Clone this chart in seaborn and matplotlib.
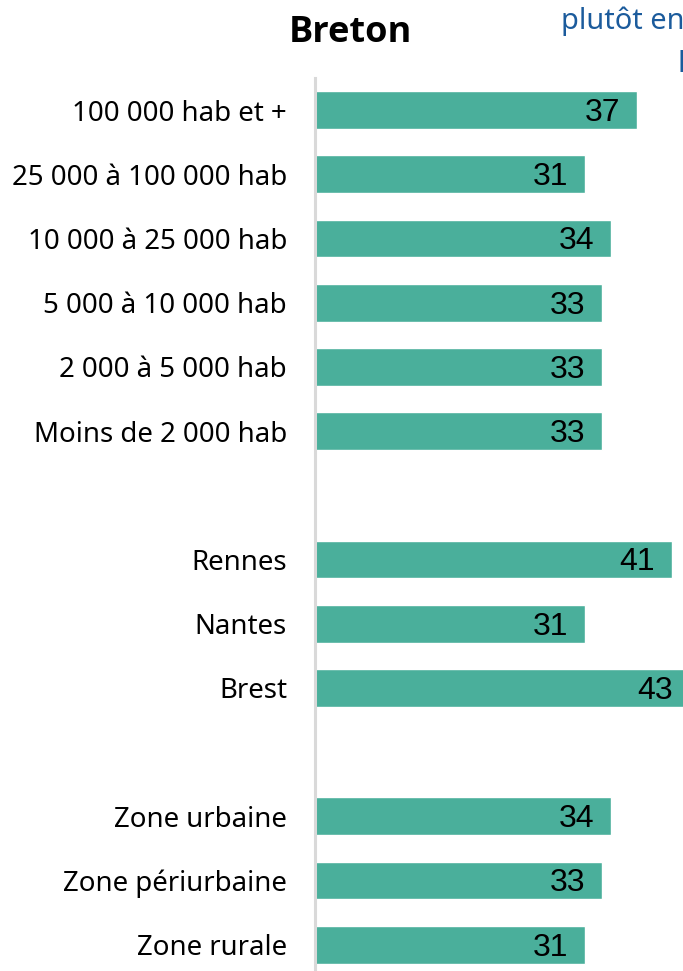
import matplotlib
matplotlib.use("Agg")
import matplotlib.pyplot as plt
import seaborn as sns
import pandas as pd

# Data: share (%) per town size / city / zone type
categories = [
    "100 000 hab et +",
    "25 000 à 100 000 hab",
    "10 000 à 25 000 hab",
    "5 000 à 10 000 hab",
    "2 000 à 5 000 hab",
    "Moins de 2 000 hab",
    "Rennes",
    "Nantes",
    "Brest",
    "Zone urbaine",
    "Zone périurbaine",
    "Zone rurale",
]
values = [37, 31, 34, 33, 33, 33, 41, 31, 43, 34, 33, 31]

# Blank rows separate the three groups
row_order = categories[:6] + [" "] + categories[6:9] + ["  "] + categories[9:]

title = "Breton"
header_lines = ["plutôt en", "l"]

BAR_COLOR = "#4AAF9B"
AXIS_COLOR = "#D9D9D9"
HEADER_COLOR = "#1B5B9C"

sns.set_theme(style="white")
plt.rcParams["font.family"] = ["Noto Sans", "DejaVu Sans"]

W, H, DPI = 683, 971, 100
fig = plt.figure(figsize=(W / DPI, H / DPI), dpi=DPI)

left_px, top_px = 314.5, 78
ax = fig.add_axes([left_px / W, 0, 1 - left_px / W, 1 - top_px / H])

df = pd.DataFrame({"categorie": categories, "valeur": values})
sns.barplot(
    data=df, y="categorie", x="valeur", order=row_order,
    color=BAR_COLOR, saturation=1, width=0.59, ax=ax, errorbar=None,
)

px_per_unit = 8.72
row_px = 64.2
ax.set_xlim(0, (W - left_px) / px_per_unit)
axes_h = H - top_px
ax.set_ylim(-0.5 + axes_h / row_px, -0.5)

for s in ["top", "right", "bottom"]:
    ax.spines[s].set_visible(False)
ax.spines["left"].set_color(AXIS_COLOR)
ax.spines["left"].set_linewidth(2.2)

ax.set_xlabel("")
ax.set_ylabel("")
ax.set_xticks([])
ax.tick_params(axis="y", length=0, pad=19.8, labelsize=19.9, labelcolor="black")

# Value labels inside the bar ends
for cat, v in zip(categories, values):
    i = row_order.index(cat)
    ax.annotate(
        str(v), xy=(v, i), xytext=(-12, -7.8), textcoords="offset points",
        ha="right", va="baseline", fontsize=23, color="black",
        family=["Liberation Sans", "DejaVu Sans"], annotation_clip=False,
    )

fig.text(350.5 / W, 1 - 42 / H, title, ha="center", va="baseline",
         fontsize=26, fontweight="bold", color="black",
         family=["Open Sans", "DejaVu Sans"])

fig.text(561 / W, 1 - 29 / H, header_lines[0], ha="left", va="baseline",
         fontsize=20.8, color=HEADER_COLOR)
fig.text(677 / W, 1 - 72 / H, header_lines[1], ha="left", va="baseline",
         fontsize=20.8, color=HEADER_COLOR)

fig.savefig("out.png", dpi=DPI)
